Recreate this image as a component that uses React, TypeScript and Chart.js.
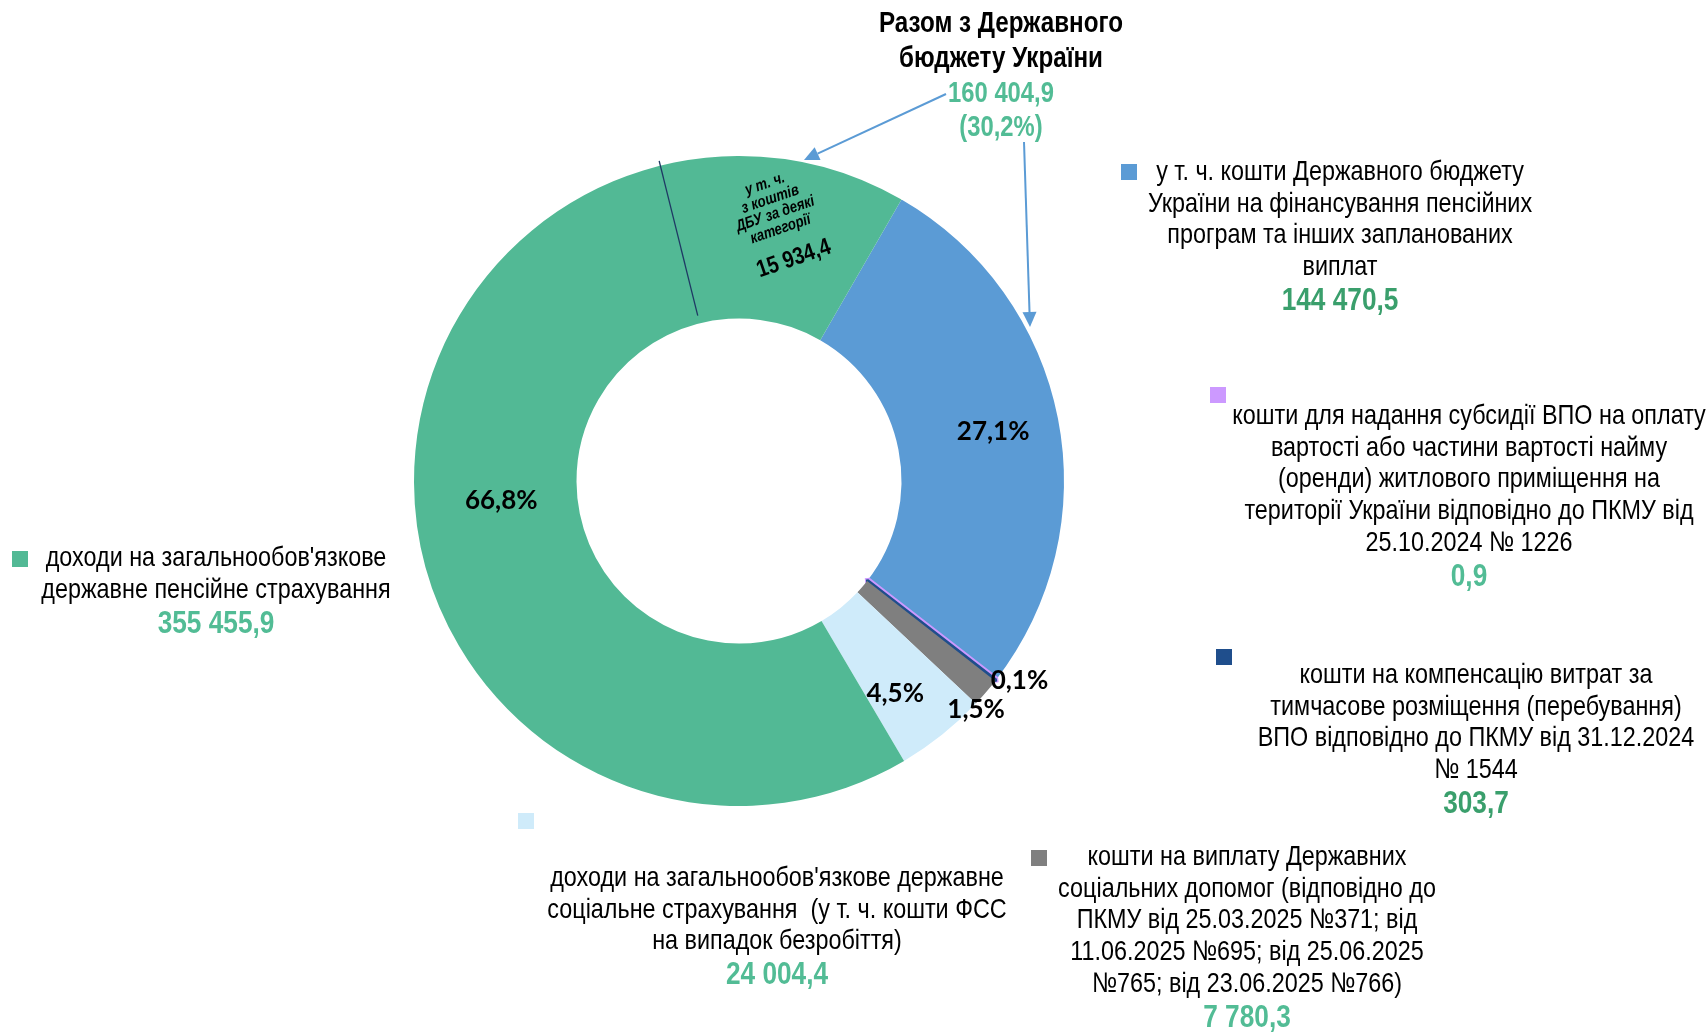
import React, { useEffect, useRef } from "react";
import { Chart, registerables } from "chart.js";

Chart.register(...registerables);

// ---------- data ----------
const categories: string[][] = [
  ["у т. ч. кошти Державного бюджету", "України на фінансування пенсійних", "програм та інших запланованих", "виплат"],
  ["кошти для надання субсидії ВПО на оплату", "вартості або частини вартості найму", "(оренди) житлового приміщення на", "території України відповідно до ПКМУ від", "25.10.2024 № 1226"],
  ["кошти на компенсацію витрат за", "тимчасове розміщення (перебування)", "ВПО відповідно до ПКМУ від 31.12.2024", "№ 1544"],
  ["кошти на виплату Державних", "соціальних допомог (відповідно до", "ПКМУ від 25.03.2025 №371; від", "11.06.2025 №695; від 25.06.2025", "№765; від 23.06.2025 №766)"],
  ["доходи на загальнообов'язкове державне", "соціальне страхування  (у т. ч. кошти ФСС", "на випадок безробіття)"],
  ["доходи на загальнообов'язкове", "державне пенсійне страхування"],
];
const values: number[] = [144470.5, 0.9, 303.7, 7780.3, 24004.4, 355455.9];
const percentLabels: string[] = ["27,1%", "", "0,1%", "1,5%", "4,5%", "66,8%"];
const dbuSubValue = 15934.4;
const dbuSubLines: string[] = ["у т. ч.", "з коштів", "ДБУ за деякі", "категорії"];
const titleLines: string[] = ["Разом з Державного", "бюджету України"];

// ---------- styles / layout ----------
const colors = ["#5B9BD5", "#CC99FF", "#1F4E8C", "#7F7F7F", "#CFEBFA", "#52B995"];
const borderWidths = [0, 7, 3, 0, 0, 0];
const valueColors = ["#3A9F6C", "#52BC95", "#3A9F6C", "#52BC95", "#52BC95", "#52BC95"];
const SANS = "'Liberation Sans', Arial, sans-serif";
const NARROW_SCALE = 0.82;
const LABEL_FONT = "Lato, 'Open Sans', sans-serif";
// legend blocks: square position, text centre x, first line y
const legendSquares = [[1121, 164], [1210, 387], [1216, 649], [1031, 850], [518, 813], [12, 551]];
const legendCenters = [1340, 1469, 1476, 1247, 777, 216];
const legendFirstY = [172, 416, 675, 857, 878, 558];
const labelOffsets = [[15, -2], [0, 0], [88, 50], [52, 70], [4, 22], [6, 18]];

const fmt = (v: number) => {
  const [i, d] = v.toFixed(1).split(".");
  return i.replace(/\B(?=(\d{3})+(?!\d))/g, " ") + "," + d;
};

const narrowText = (ctx: CanvasRenderingContext2D, t: string, x: number, y: number) => {
  ctx.save();
  ctx.translate(x, y);
  ctx.scale(NARROW_SCALE, 1);
  ctx.fillText(t, 0, 0);
  ctx.restore();
};

const arrow = (ctx: CanvasRenderingContext2D, x1: number, y1: number, x2: number, y2: number) => {
  const a = Math.atan2(y2 - y1, x2 - x1);
  const L = 15, W = 7;
  ctx.save();
  ctx.strokeStyle = "#5B9BD5";
  ctx.fillStyle = "#5B9BD5";
  ctx.lineWidth = 2;
  ctx.beginPath();
  ctx.moveTo(x1, y1);
  ctx.lineTo(x2 - L * Math.cos(a), y2 - L * Math.sin(a));
  ctx.stroke();
  ctx.beginPath();
  ctx.moveTo(x2, y2);
  ctx.lineTo(x2 - L * Math.cos(a) + W * Math.sin(a), y2 - L * Math.sin(a) - W * Math.cos(a));
  ctx.lineTo(x2 - L * Math.cos(a) - W * Math.sin(a), y2 - L * Math.sin(a) + W * Math.cos(a));
  ctx.closePath();
  ctx.fill();
  ctx.restore();
};

const overlayPlugin = {
  id: "overlay",
  afterDraw(chart: any) {
    const ctx: CanvasRenderingContext2D = chart.ctx;
    const meta = chart.getDatasetMeta(0);
    const total = values.reduce((a, b) => a + b, 0);
    const arc0 = meta.data[0];
    const cx = arc0.x, cy = arc0.y;
    const rIn = arc0.innerRadius, rOut = arc0.outerRadius;

    // split line inside green sector
    const ang = (-14 - 90) * Math.PI / 180;
    ctx.save();
    ctx.strokeStyle = "#1F3864";
    ctx.lineWidth = 1.3;
    ctx.beginPath();
    ctx.moveTo(cx + (rIn + 8) * Math.cos(ang), cy + (rIn + 8) * Math.sin(ang));
    ctx.lineTo(cx + (rOut + 5) * Math.cos(ang), cy + (rOut + 5) * Math.sin(ang));
    ctx.stroke();
    ctx.restore();

    // percent labels
    ctx.save();
    ctx.fillStyle = "#000";
    ctx.font = `bold 26px ${LABEL_FONT}`;
    ctx.textAlign = "center";
    ctx.textBaseline = "middle";
    meta.data.forEach((arc: any, i: number) => {
      if (!percentLabels[i]) return;
      const p = arc.getCenterPoint();
      ctx.fillText(percentLabels[i], p.x + labelOffsets[i][0], p.y + labelOffsets[i][1]);
    });
    ctx.restore();

    // rotated sub-label in green sector
    ctx.save();
    ctx.translate(778, 222);
    ctx.rotate(-19 * Math.PI / 180);
    ctx.fillStyle = "#000";
    ctx.textAlign = "center";
    ctx.textBaseline = "middle";
    ctx.font = `italic bold 16px ${SANS}`;
    const subY = [-40, -24, -8.5, 7.5];
    dbuSubLines.forEach((t, i) => narrowText(ctx, t, 0, subY[i]));
    ctx.font = `bold 24px ${SANS}`;
    narrowText(ctx, fmt(dbuSubValue), 3, 40);
    ctx.restore();

    // legend blocks
    ctx.save();
    ctx.textAlign = "center";
    ctx.textBaseline = "middle";
    categories.forEach((lines, i) => {
      ctx.fillStyle = colors[i];
      ctx.fillRect(legendSquares[i][0], legendSquares[i][1], 16, 16);
      ctx.fillStyle = "#000";
      ctx.font = `28.5px ${SANS}`;
      let y = legendFirstY[i];
      lines.forEach((t, k) => narrowText(ctx, t, legendCenters[i], y + k * 31.8));
      y = y + (lines.length - 1) * 31.8 + 34;
      ctx.fillStyle = valueColors[i];
      ctx.font = `bold 32px ${SANS}`;
      narrowText(ctx, fmt(values[i]), legendCenters[i], y);
    });
    ctx.restore();

    // title
    ctx.save();
    ctx.textAlign = "center";
    ctx.textBaseline = "middle";
    ctx.fillStyle = "#000";
    ctx.font = `bold 29.5px ${SANS}`;
    narrowText(ctx, titleLines[0], 1001, 24);
    narrowText(ctx, titleLines[1], 1001, 59);
    ctx.fillStyle = "#52BC95";
    ctx.font = `bold 29px ${SANS}`;
    const stateTotal = values[0] + dbuSubValue;
    narrowText(ctx, fmt(stateTotal), 1001, 94);
    narrowText(ctx, "(" + (stateTotal / total * 100).toFixed(1).replace(".", ",") + "%)", 1001, 128);
    ctx.restore();

    arrow(ctx, 946, 94, 804, 160);
    arrow(ctx, 1024, 142, 1030, 327);
  },
};

export default function App() {
  const ref = useRef<HTMLCanvasElement | null>(null);
  useEffect(() => {
    if (!ref.current) return;
    const chart = new Chart(ref.current, {
      type: "doughnut",
      data: {
        labels: categories,
        datasets: [{ data: values, backgroundColor: colors, borderColor: colors, borderWidth: borderWidths }],
      },
      options: {
        responsive: false,
        animation: false,
        cutout: "50%",
        rotation: 30,
        layout: { padding: { left: 410.5, right: 640.5, top: 152.5, bottom: 225.5 } },
        plugins: { legend: { display: false }, tooltip: { enabled: false } },
      },
      plugins: [overlayPlugin],
    });
    return () => chart.destroy();
  }, []);
  return (
    <div style={{ position: "absolute", left: 0, top: 0, width: 1708, height: 1035, background: "#fff" }}>
      <canvas ref={ref} width={1708} height={1035} style={{ width: 1708, height: 1035 }} />
    </div>
  );
}
